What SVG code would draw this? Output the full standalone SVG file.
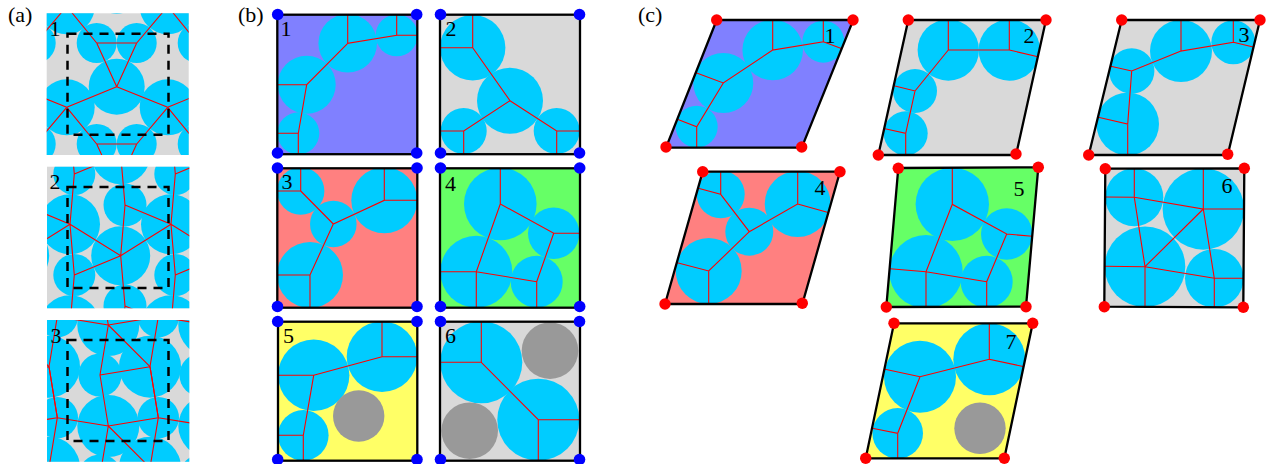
<svg xmlns="http://www.w3.org/2000/svg" width="1266" height="464" viewBox="0 0 1266 464">
<style>
text{font-family:"Liberation Serif","Times New Roman",serif;font-size:22px;fill:#000}
.c{fill:#00ccff}.g{fill:#999}
.r{fill:none;stroke:#f00;stroke-width:1.1}
.b{fill:none;stroke:#000;stroke-width:2.3;stroke-linejoin:miter}
.d{fill:none;stroke:#000;stroke-width:2.5;stroke-dasharray:9 7}
.bd{fill:#00f}.rd{fill:#f00}
.gray{fill:#d9d9d9}.pur{fill:#8080ff}.pink{fill:#ff8080}.grn{fill:#66ff66}.yel{fill:#ffff66}
</style>
<defs>
<clipPath id="ca1"><rect x="46.7" y="13.3" width="142" height="141.7"/></clipPath>
<clipPath id="ca2"><rect x="47" y="166.7" width="142.3" height="141.6"/></clipPath>
<clipPath id="ca3"><rect x="47" y="320" width="142.3" height="141.7"/></clipPath>
<clipPath id="cb1"><rect x="277.3" y="14.7" width="140" height="139.5"/></clipPath>
<clipPath id="cb2"><rect x="440" y="14.7" width="140" height="139.5"/></clipPath>
<clipPath id="cb3"><rect x="277.3" y="168.3" width="140" height="139.4"/></clipPath>
<clipPath id="cb4"><rect x="440" y="168.3" width="140" height="139.4"/></clipPath>
<clipPath id="cb5"><rect x="278" y="321.7" width="139.3" height="139"/></clipPath>
<clipPath id="cb6"><rect x="440" y="321.7" width="140" height="139"/></clipPath>
<clipPath id="cc1"><polygon points="716.7,20 853.3,20 801.7,147.7 666,147.7"/></clipPath>
<clipPath id="cc2"><polygon points="908.3,20 1046,20 1016,155 878.3,155"/></clipPath>
<clipPath id="cc3"><polygon points="1121.7,20 1260,20 1227.7,155 1088.7,155"/></clipPath>
<clipPath id="cc4"><polygon points="702.7,171.7 840,171.7 802.3,304 665,304"/></clipPath>
<clipPath id="cc5"><polygon points="898.3,168 1038.3,167.3 1026,306.7 886.3,307"/></clipPath>
<clipPath id="cc6"><polygon points="1105.3,168.7 1244.3,168.3 1243.3,307.3 1104.3,306.7"/></clipPath>
<clipPath id="cc7"><polygon points="894,323.3 1032.7,323.3 1004.3,458.3 865.7,458.3"/></clipPath>
<g id="u1">
<circle class="c" cx="116.7" cy="86.7" r="28"/><circle class="c" cx="96.7" cy="43" r="20"/><circle class="c" cx="136.7" cy="43" r="20"/><circle class="c" cx="66.7" cy="107.3" r="28"/>
</g>
<path id="l1" class="r" d="M116.7 86.7L96.7 43M116.7 86.7L136.7 43M96.7 43H136.7M116.7 86.7L66.7 107.3M116.7 86.7L167.7 107.3M66.7 107.3L96.7 144M66.7 107.3L35.7 144"/>
<g id="u2">
<circle class="c" cx="120.7" cy="255.7" r="29.5"/><circle class="c" cx="70" cy="224.3" r="30"/><circle class="c" cx="125" cy="205" r="21.5"/><circle class="c" cx="74.3" cy="275" r="21"/>
</g>
<path id="l2" class="r" d="M120.7 255.7L70 224.3M120.7 255.7L171 224.3M120.7 255.7L74.3 275M125 205L171 224.3M70 224.3L74.3 275M125 205L120.7 255.7M125 205L120.7 154.7M74.3 275L70 325.3"/>
<g id="u3">
<circle class="c" cx="108.3" cy="426" r="31"/><circle class="c" cx="150" cy="366.7" r="31"/><circle class="c" cx="100" cy="375" r="21.6"/><circle class="c" cx="57.3" cy="417.7" r="20.7"/>
</g>
<path id="l3" class="r" d="M150 366.7L108.3 325M150 366.7L100 375M100 375L108.3 426M100 375L108.3 325M57.3 417.7L108.3 426M108.3 426L158.3 417.7M150 366.7L158.3 417.7M57.3 417.7L49 366.7M57.3 417.7L49 467.7"/>
</defs>

<text x="8" y="22">(a)</text>
<text x="238" y="22">(b)</text>
<text x="638" y="22">(c)</text>

<g id="a1">
<rect class="gray" x="46.7" y="13.3" width="142" height="141.7"/>
<g clip-path="url(#ca1)">
<use href="#u1" x="-101" y="-101"/><use href="#u1" y="-101"/><use href="#u1" x="101" y="-101"/>
<use href="#u1" x="-101"/><use href="#u1"/><use href="#u1" x="101"/>
<use href="#u1" x="-101" y="101"/><use href="#u1" y="101"/><use href="#u1" x="101" y="101"/>
<use href="#l1" x="-101" y="-101"/><use href="#l1" y="-101"/><use href="#l1" x="101" y="-101"/>
<use href="#l1" x="-101"/><use href="#l1"/><use href="#l1" x="101"/>
<use href="#l1" x="-101" y="101"/><use href="#l1" y="101"/><use href="#l1" x="101" y="101"/>
</g>
<rect class="d" x="67.5" y="33.7" width="101" height="101"/>
<text x="49.5" y="35.7">1</text>
</g>
<g id="a2">
<rect class="gray" x="47" y="166.7" width="142.3" height="141.6"/>
<g clip-path="url(#ca2)">
<use href="#u2" x="-101" y="-101"/><use href="#u2" y="-101"/><use href="#u2" x="101" y="-101"/>
<use href="#u2" x="-101"/><use href="#u2"/><use href="#u2" x="101"/>
<use href="#u2" x="-101" y="101"/><use href="#u2" y="101"/><use href="#u2" x="101" y="101"/>
<use href="#l2" x="-101" y="-101"/><use href="#l2" y="-101"/><use href="#l2" x="101" y="-101"/>
<use href="#l2" x="-101"/><use href="#l2"/><use href="#l2" x="101"/>
<use href="#l2" x="-101" y="101"/><use href="#l2" y="101"/><use href="#l2" x="101" y="101"/>
</g>
<rect class="d" x="67.5" y="187" width="101" height="101"/>
<text x="49.5" y="189.3">2</text>
</g>
<g id="a3">
<rect class="gray" x="47" y="320" width="142.3" height="141.7"/>
<g clip-path="url(#ca3)">
<use href="#u3" x="-101" y="-101"/><use href="#u3" y="-101"/><use href="#u3" x="101" y="-101"/>
<use href="#u3" x="-101"/><use href="#u3"/><use href="#u3" x="101"/>
<use href="#u3" x="-101" y="101"/><use href="#u3" y="101"/><use href="#u3" x="101" y="101"/>
<use href="#l3" x="-101" y="-101"/><use href="#l3" y="-101"/><use href="#l3" x="101" y="-101"/>
<use href="#l3" x="-101"/><use href="#l3"/><use href="#l3" x="101"/>
<use href="#l3" x="-101" y="101"/><use href="#l3" y="101"/><use href="#l3" x="101" y="101"/>
</g>
<rect class="d" x="67.5" y="340" width="101" height="101"/>
<text x="50.5" y="343.3">3</text>
</g>

<g id="b1">
<rect class="pur" x="277.3" y="14.7" width="140" height="139.5"/>
<g clip-path="url(#cb1)">
<circle class="c" cx="347.7" cy="43.3" r="29.3"/><circle class="c" cx="396.7" cy="35.3" r="21"/><circle class="c" cx="306.7" cy="84.7" r="29"/><circle class="c" cx="298.3" cy="133.3" r="21"/>
<path class="r" d="M347.7 14.7V43.3L396.7 35.3V14.7M396.7 35.3H417.3M347.7 43.3L306.7 84.7H277.3M306.7 84.7L298.3 133.3H277.3M298.3 133.3V154.2"/>
</g>
<rect class="b" x="277.3" y="14.7" width="140" height="139.5"/>
<circle class="bd" cx="277.7" cy="14.5" r="5.8"/><circle class="bd" cx="416.7" cy="14.5" r="5.8"/><circle class="bd" cx="277.5" cy="153" r="5.8"/><circle class="bd" cx="416.7" cy="153" r="5.8"/>
<text x="280.5" y="36">1</text>
</g>
<g id="b2">
<rect class="gray" x="440" y="14.7" width="140" height="139.5"/>
<g clip-path="url(#cb2)">
<circle class="c" cx="472.7" cy="47.7" r="32.7"/><circle class="c" cx="510" cy="100.7" r="33"/><circle class="c" cx="463.7" cy="131" r="23"/><circle class="c" cx="556.7" cy="131" r="23"/>
<path class="r" d="M472.7 14.7V47.7H440M472.7 47.7L510 100.7L463.7 131H440M463.7 131V154.2M510 100.7L556.7 131H580M556.7 131V154.2"/>
</g>
<rect class="b" x="440" y="14.7" width="140" height="139.5"/>
<circle class="bd" cx="440.5" cy="14.5" r="5.8"/><circle class="bd" cx="579.5" cy="14.5" r="5.8"/><circle class="bd" cx="440.5" cy="153" r="5.8"/><circle class="bd" cx="579.5" cy="153" r="5.8"/>
<text x="445.5" y="36">2</text>
</g>
<g id="b3">
<rect class="pink" x="277.3" y="168.3" width="140" height="139.4"/>
<g clip-path="url(#cb3)">
<circle class="c" cx="300.7" cy="191" r="23.7"/><circle class="c" cx="333.3" cy="224" r="23.3"/><circle class="c" cx="384.3" cy="200.3" r="33"/><circle class="c" cx="310" cy="275" r="33"/>
<path class="r" d="M300.7 168.3V191H277.3M300.7 191L333.3 224L384.3 200.3V168.3M384.3 200.3H417.3M333.3 224L310 275H277.3M310 275V307.7"/>
</g>
<rect class="b" x="277.3" y="168.3" width="140" height="139.4"/>
<circle class="bd" cx="277.5" cy="168" r="5.8"/><circle class="bd" cx="417" cy="168" r="5.8"/><circle class="bd" cx="277.5" cy="306.5" r="5.8"/><circle class="bd" cx="417" cy="306.5" r="5.8"/>
<text x="281.5" y="188.5">3</text>
</g>
<g id="b4">
<rect class="grn" x="440" y="168.3" width="140" height="139.4"/>
<g clip-path="url(#cb4)">
<circle class="c" cx="500.3" cy="204" r="36.3"/><circle class="c" cx="553.7" cy="233.3" r="25.7"/><circle class="c" cx="476.3" cy="271.7" r="36"/><circle class="c" cx="536.7" cy="281.7" r="26"/>
<path class="r" d="M500.3 168.3V204L553.7 233.3H580M553.7 233.3L536.7 281.7V307.7M536.7 281.7L476.3 271.7H440M476.3 271.7V307.7M476.3 271.7L500.3 204"/>
</g>
<rect class="b" x="440" y="168.3" width="140" height="139.4"/>
<circle class="bd" cx="440.5" cy="168" r="5.8"/><circle class="bd" cx="579.7" cy="168" r="5.8"/><circle class="bd" cx="440.5" cy="306.5" r="5.8"/><circle class="bd" cx="579.7" cy="306.5" r="5.8"/>
<text x="445" y="191">4</text>
</g>
<g id="b5">
<rect class="yel" x="278" y="321.7" width="139.3" height="139"/>
<g clip-path="url(#cb5)">
<circle class="c" cx="382" cy="356.7" r="35.3"/><circle class="c" cx="313.7" cy="375.3" r="35.7"/><circle class="c" cx="303.3" cy="435.3" r="25.3"/><circle class="g" cx="358.7" cy="416" r="25.7"/>
<path class="r" d="M382 321.7V356.7H417.3M382 356.7L313.7 375.3H278M313.7 375.3L303.3 435.3H278M303.3 435.3V460.7"/>
</g>
<rect class="b" x="278" y="321.7" width="139.3" height="139"/>
<circle class="bd" cx="277.7" cy="321.5" r="5.8"/><circle class="bd" cx="417" cy="321.5" r="5.8"/><circle class="bd" cx="277.7" cy="459.5" r="5.8"/><circle class="bd" cx="417" cy="459.5" r="5.8"/>
<text x="283" y="343">5</text>
</g>
<g id="b6">
<rect class="gray" x="440" y="321.7" width="140" height="139"/>
<g clip-path="url(#cb6)">
<circle class="c" cx="481.3" cy="362.3" r="41"/><circle class="c" cx="538.3" cy="419.7" r="41"/><circle class="g" cx="550" cy="350.7" r="28.3"/><circle class="g" cx="469.7" cy="430.7" r="28.3"/>
<path class="r" d="M481.3 321.7V362.3H440M481.3 362.3L538.3 419.7H580M538.3 419.7V460.7"/>
</g>
<rect class="b" x="440" y="321.7" width="140" height="139"/>
<circle class="bd" cx="440.5" cy="321.5" r="5.8"/><circle class="bd" cx="579.5" cy="321.5" r="5.8"/><circle class="bd" cx="440.5" cy="459.5" r="5.8"/><circle class="bd" cx="579.5" cy="459.5" r="5.8"/>
<text x="445" y="343">6</text>
</g>

<g id="c1">
<polygon class="pur" points="716.7,20 853.3,20 801.7,147.7 666,147.7"/>
<g clip-path="url(#cc1)">
<circle class="c" cx="772.7" cy="50" r="30.3"/><circle class="c" cx="823.3" cy="41.7" r="21"/><circle class="c" cx="723.3" cy="83" r="30"/><circle class="c" cx="696.7" cy="126.7" r="21"/>
<path class="r" d="M772.7 20V50L823.3 41.7V20M823.3 41.7L842.7 49M772.7 50L723.3 83L696 72.7M723.3 83L696.7 126.7L676.7 119M696.7 126.7V147.7"/>
</g>
<polygon class="b" points="716.7,20 853.3,20 801.7,147.7 666,147.7"/>
<circle class="rd" cx="716.7" cy="20" r="5.7"/><circle class="rd" cx="853" cy="20" r="5.7"/><circle class="rd" cx="801.7" cy="147" r="5.7"/><circle class="rd" cx="666" cy="147" r="5.7"/>
<text x="824.5" y="42.7">1</text>
</g>
<g id="c2">
<polygon class="gray" points="908.3,20 1046,20 1016,155 878.3,155"/>
<g clip-path="url(#cc2)">
<circle class="c" cx="948.3" cy="50" r="30.7"/><circle class="c" cx="1009.3" cy="50" r="30.7"/><circle class="c" cx="915" cy="91" r="22"/><circle class="c" cx="905.7" cy="133.3" r="22"/>
<path class="r" d="M948.3 20V50H1009.3V20M1009.3 50L1039 57M948.3 50L915 91L895 86M915 91L905.7 133.3L885 128.7M905.7 133.3V155"/>
</g>
<polygon class="b" points="908.3,20 1046,20 1016,155 878.3,155"/>
<circle class="rd" cx="908.3" cy="20" r="5.7"/><circle class="rd" cx="1046" cy="20" r="5.7"/><circle class="rd" cx="1016" cy="154" r="5.7"/><circle class="rd" cx="878.3" cy="155" r="5.7"/>
<text x="1023.5" y="42.7">2</text>
</g>
<g id="c3">
<polygon class="gray" points="1121.7,20 1260,20 1227.7,155 1088.7,155"/>
<g clip-path="url(#cc3)">
<circle class="c" cx="1181" cy="51" r="31"/><circle class="c" cx="1233.3" cy="42.3" r="22"/><circle class="c" cx="1131.7" cy="71" r="22.7"/><circle class="c" cx="1127.7" cy="124" r="31.3"/>
<path class="r" d="M1181 20V51L1233.3 42.3V20M1233.3 42.3L1254.3 47.3M1181 51L1131.7 71L1110.7 66.3M1131.7 71L1127.7 124L1098.3 117.3M1127.7 124V155"/>
</g>
<polygon class="b" points="1121.7,20 1260,20 1227.7,155 1088.7,155"/>
<circle class="rd" cx="1121.7" cy="20" r="5.7"/><circle class="rd" cx="1260" cy="20" r="5.7"/><circle class="rd" cx="1227.7" cy="154.3" r="5.7"/><circle class="rd" cx="1088.7" cy="155" r="5.7"/>
<text x="1238.5" y="42">3</text>
</g>
<g id="c4">
<polygon class="pink" points="702.7,171.7 840,171.7 802.3,304 665,304"/>
<g clip-path="url(#cc4)">
<circle class="c" cx="720.7" cy="194.3" r="24"/><circle class="c" cx="749.3" cy="231.7" r="24"/><circle class="c" cx="797.7" cy="204" r="33"/><circle class="c" cx="708.7" cy="271" r="33"/>
<path class="r" d="M720.7 171.7V194.3L698.3 188.3M720.7 194.3L749.3 231.7L797.7 204V171.7M797.7 204L829 212.7M749.3 231.7L708.7 271L677.3 262.7M708.7 271V304"/>
</g>
<polygon class="b" points="702.7,171.7 840,171.7 802.3,304 665,304"/>
<circle class="rd" cx="702.7" cy="171.7" r="5.7"/><circle class="rd" cx="840" cy="171.7" r="5.7"/><circle class="rd" cx="802.3" cy="303.3" r="5.7"/><circle class="rd" cx="665" cy="304" r="5.7"/>
<text x="814.5" y="195">4</text>
</g>
<g id="c5">
<polygon class="grn" points="898.3,168 1038.3,167.3 1026,306.7 886.3,307"/>
<g clip-path="url(#cc5)">
<circle class="c" cx="952.3" cy="204.3" r="36.7"/><circle class="c" cx="1006.7" cy="234" r="25.7"/><circle class="c" cx="926" cy="271.7" r="36.7"/><circle class="c" cx="986.7" cy="281.7" r="26"/>
<path class="r" d="M952.3 168V204.3L1006.7 234L1032.3 236.3M1006.7 234L986.7 281.7V307M986.7 281.7L926 271.7L890 268.7M926 271.7V307M926 271.7L952.3 204.3"/>
</g>
<polygon class="b" points="898.3,168 1038.3,167.3 1026,306.7 886.3,307"/>
<circle class="rd" cx="898.3" cy="168.3" r="5.7"/><circle class="rd" cx="1038.3" cy="167.3" r="5.7"/><circle class="rd" cx="1026" cy="306.7" r="5.7"/><circle class="rd" cx="886.3" cy="307" r="5.7"/>
<text x="1013.5" y="196">5</text>
</g>
<g id="c6">
<polygon class="gray" points="1105.3,168.7 1244.3,168.3 1243.3,307.3 1104.3,306.7"/>
<g clip-path="url(#cc6)">
<circle class="c" cx="1134.3" cy="197.3" r="29"/><circle class="c" cx="1203.3" cy="209" r="40.7"/><circle class="c" cx="1145" cy="266.7" r="40.3"/><circle class="c" cx="1214.3" cy="278.3" r="29.3"/>
<path class="r" d="M1134.3 168.7V197.3L1105.3 197M1134.3 197.3L1203.3 209V168.3M1203.3 209H1244.3M1134.3 197.3L1145 266.7L1203.3 209L1214.3 278.3H1244M1214.3 278.3V307.3M1214.3 278.3L1145 266.7L1105 266.3M1145 266.7V307"/>
</g>
<polygon class="b" points="1105.3,168.7 1244.3,168.3 1243.3,307.3 1104.3,306.7"/>
<circle class="rd" cx="1105.3" cy="168.7" r="5.7"/><circle class="rd" cx="1244.3" cy="168.3" r="5.7"/><circle class="rd" cx="1243.3" cy="307.3" r="5.7"/><circle class="rd" cx="1104.3" cy="306.7" r="5.7"/>
<text x="1221.5" y="193.3">6</text>
</g>
<g id="c7">
<polygon class="yel" points="894,323.3 1032.7,323.3 1004.3,458.3 865.7,458.3"/>
<g clip-path="url(#cc7)">
<circle class="c" cx="989.3" cy="359.3" r="36"/><circle class="c" cx="920" cy="376.7" r="36"/><circle class="c" cx="897.7" cy="433.3" r="25.3"/><circle class="g" cx="980" cy="428.3" r="25.7"/>
<path class="r" d="M989.3 323.3V359.3L1024.3 366.7M989.3 359.3L920 376.7L885 369.3M920 376.7L897.7 433.3L872.3 428.3M897.7 433.3V458.3"/>
</g>
<polygon class="b" points="894,323.3 1032.7,323.3 1004.3,458.3 865.7,458.3"/>
<circle class="rd" cx="894" cy="323.3" r="5.7"/><circle class="rd" cx="1032.7" cy="323.3" r="5.7"/><circle class="rd" cx="1004.3" cy="458.3" r="5.7"/><circle class="rd" cx="865.7" cy="458.3" r="5.7"/>
<text x="1005.5" y="349">7</text>
</g>
</svg>
